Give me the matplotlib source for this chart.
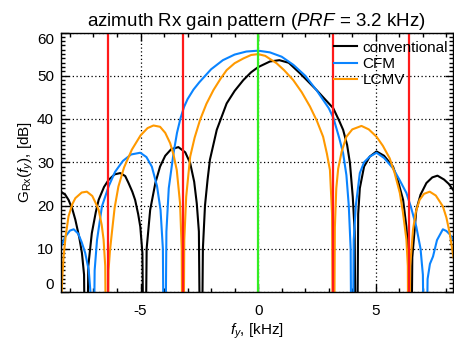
import numpy as np
import matplotlib
matplotlib.use('Agg')
import matplotlib.pyplot as plt
from matplotlib.ticker import MultipleLocator

plt.rcParams['font.family'] = ['Liberation Sans', 'DejaVu Sans']
plt.rcParams['mathtext.fontset'] = 'custom'
plt.rcParams['mathtext.rm'] = 'Liberation Sans'
plt.rcParams['mathtext.it'] = 'Liberation Sans:italic'
plt.rcParams['axes.unicode_minus'] = False

# conventional beamformer (nulls set far below 0 dB)
f_conv = [-8.38, -8.2, -8.06, -7.9, -7.77, -7.6, -7.49, -7.4, -7.32, -7.22, -7.07, -6.9,
          -6.78, -6.55, -6.36, -6.1, -5.86, -5.65, -5.51, -5.35, -5.23, -5.1, -5.01, -4.92,
          -4.83, -4.74, -4.59, -4.37, -4.17, -3.95, -3.7, -3.39, -3.1, -2.89, -2.72, -2.61,
          -2.52, -2.43, -2.35, -2.26, -2.15, -2.05, -1.76, -1.34, -1.0, -0.63, -0.3, 0.0,
          0.5, 0.9, 1.3, 1.77, 2.1, 2.48, 2.85, 3.19, 3.45, 3.61, 3.78, 3.9, 4.02, 4.1,
          4.18, 4.25, 4.32, 4.5, 4.74, 5.03, 5.35, 5.73, 5.95, 6.16, 6.3, 6.4, 6.47, 6.55,
          6.72, 6.9, 7.15, 7.4, 7.62, 7.9, 8.1, 8.3]
g_conv = [23.2, 22.5, 21.3, 19.2, 16.7, 12.5, 9.0, 4.0, -40, 6.0, 13.6, 18.5,
          21.3, 24.3, 25.9, 27.2, 27.5, 26.8, 25.2, 23.2, 21.3, 18.0, 15.1, 9.0,
          -40, 10.0, 19.0, 25.2, 29.0, 31.5, 33.0, 33.5, 32.3, 29.8, 25.5, 20.5,
          14.0, -40, 10.0, 20.0, 26.0, 30.6, 37.5, 43.6, 46.5, 49.0, 50.8, 52.0,
          53.3, 53.6, 53.0, 50.6, 48.8, 46.7, 44.5, 42.5, 39.5, 37.5, 34.0, 29.8, 22.0, 14.0,
          -40, 18.0, 24.0, 29.0, 31.3, 32.5, 31.5, 29.0, 25.5, 21.3, 15.0, 8.0, -40, 8.0,
          19.0, 22.5, 25.2, 26.5, 26.9, 26.0, 25.0, 23.5]

# CFM
f_cfm = [-8.38, -8.2, -8.0, -7.84, -7.65, -7.5, -7.35, -7.2, -7.1, -7.04, -6.95, -6.85,
         -6.64, -6.35, -6.08, -5.75, -5.4, -5.01, -4.75, -4.52, -4.3, -4.15, -4.05, -3.98,
         -3.9, -3.8, -3.6, -3.45, -3.3, -3.15, -3.0, -2.75, -2.5, -2.0, -1.5, -1.0,
         -0.5, 0.0, 0.5, 1.0, 1.5, 2.0, 2.5, 3.0, 3.2, 3.45, 3.61, 3.75,
         3.85, 3.93, 3.99, 4.06, 4.15, 4.32, 4.5, 4.74, 5.03, 5.35, 5.73, 6.0,
         6.3, 6.5, 6.72, 6.9, 7.0, 7.1, 7.2, 7.3, 7.43, 7.6, 7.85, 8.0,
         8.15, 8.3]
g_cfm = [10.5, 12.8, 14.2, 14.5, 13.5, 11.5, 9.0, 5.0, -2.0, -40, 5.0, 12.0,
         19.8, 24.5, 27.8, 30.3, 31.8, 32.2, 31.2, 29.0, 24.5, 19.0, 10.0, -40,
         14.0, 24.0, 32.0, 36.8, 40.2, 42.8, 44.6, 46.8, 48.5, 51.5, 53.6, 54.9,
         55.6, 55.8, 55.4, 54.4, 52.5, 50.0, 46.5, 42.5, 40.2, 35.5, 32.1, 27.0,
         20.0, 10.0, -40, 12.0, 20.0, 27.5, 30.0, 31.3, 32.2, 31.0, 28.6, 26.0,
         22.9, 19.5, 15.1, 10.0, 4.0, -40, 3.0, 6.5, 8.2, 12.0, 14.5, 14.1,
         13.3, 12.0]

# LCMV
f_lcmv = [-8.38, -8.33, -8.27, -8.18, -8.06, -7.9, -7.77, -7.5, -7.28, -7.05, -6.9, -6.78,
          -6.65, -6.57, -6.5, -6.43, -6.36, -6.3, -6.22, -6.1, -5.94, -5.7, -5.37, -5.0,
          -4.7, -4.45, -4.17, -3.95, -3.74, -3.6, -3.46, -3.32, -3.25, -3.2, -3.14, -3.06,
          -2.89, -2.7, -2.47, -2.2, -1.9, -1.6, -1.34, -1.0, -0.63, -0.3, 0.0, 0.3,
          0.78, 1.1, 1.49, 1.85, 2.2, 2.5, 2.76, 2.92, 3.05, 3.14, 3.2, 3.26,
          3.32, 3.4, 3.55, 3.75, 4.0, 4.39, 4.7, 5.03, 5.3, 5.59, 5.8, 6.02,
          6.15, 6.3, 6.36, 6.4, 6.46, 6.58, 6.7, 6.86, 7.05, 7.29, 7.55, 7.85,
          8.0, 8.14, 8.3]
g_lcmv = [-5.0, 3.0, 8.2, 13.0, 17.5, 20.3, 21.7, 23.0, 23.2, 22.2, 20.5, 19.0,
          15.5, 12.1, 6.0, -40, 5.0, 9.5, 13.6, 19.5, 24.4, 28.8, 32.9, 36.2,
          37.9, 38.5, 38.2, 36.8, 34.4, 31.8, 28.2, 20.5, 10.0, -40, 12.0, 22.0,
          31.3, 35.7, 39.8, 43.5, 46.7, 49.3, 51.3, 52.9, 54.0, 54.8, 55.0, 54.6,
          52.9, 51.3, 49.0, 46.2, 42.9, 39.5, 35.9, 32.0, 28.2, 18.0, -40, 15.0,
          24.0, 28.5, 32.5, 35.9, 37.6, 38.4, 37.6, 35.9, 33.8, 30.9, 27.5, 22.9,
          18.5, 12.1, 6.0, -40, 6.0, 14.4, 18.5, 21.3, 22.7, 23.2, 22.3, 19.8,
          17.2, 13.6, 8.0]

prf_lines = [-6.4, -3.2, 3.2, 6.4]   # +-PRF, +-2 PRF
center_line = 0.0

fig = plt.figure(figsize=(4.54, 3.47), dpi=100)
ax = fig.add_axes([61 / 454, 1 - 292 / 347, 392 / 454, 259.5 / 347])

ax.plot(f_conv, g_conv, color='black', lw=1.5, label='conventional')
ax.plot(f_cfm, g_cfm, color='#0a84ff', lw=1.5, label='CFM')
ax.plot(f_lcmv, g_lcmv, color='#ff9900', lw=1.5, label='LCMV')

for x in prf_lines:
    ax.axvline(x, color='#ff1a1a', lw=1.6)
ax.axvline(center_line, color='#33ee22', lw=1.6)

ax.set_xlim(-8.38, 8.28)
ax.set_ylim(0, 60)
ax.xaxis.set_major_locator(MultipleLocator(5))
ax.xaxis.set_minor_locator(MultipleLocator(1))
ax.yaxis.set_major_locator(MultipleLocator(10))
ax.yaxis.set_minor_locator(MultipleLocator(1))
ax.tick_params(which='both', direction='in', top=True, right=True, labelsize=11)
ax.tick_params(which='major', length=6, width=1)
ax.tick_params(which='minor', length=3, width=1)
ax.tick_params(axis='x', which='major', pad=8.5)
ax.tick_params(axis='y', which='major', pad=5)
ax.grid(True, which='major', color='black', linestyle=(0, (1, 2)), lw=0.9)
for sp in ax.spines.values():
    sp.set_linewidth(1.0)

ax.set_title(r'azimuth Rx gain pattern ($PRF$ = 3.2 kHz)', fontsize=13.5, pad=5)
ax.set_xlabel(r'$f_y$, [kHz]', fontsize=11, labelpad=3)
ax.set_ylabel(r'$\mathrm{G}_{\mathrm{Rx}}(f_y)$, [dB]', fontsize=11, labelpad=1)

ax.legend(loc='upper right', bbox_to_anchor=(1.0 - 2 / 392, 1.0 - 5 / 259.5), frameon=False,
          fontsize=11, handlelength=1.5, handletextpad=0.35, labelspacing=0.15,
          borderpad=0.2, borderaxespad=0.0)

# IDL keeps the end labels inside the frame
fig.canvas.draw()
yticks = [t for t in ax.yaxis.get_major_ticks() if 0 <= t.get_loc() <= 60]
yticks[0].label1.set_va('bottom')
yticks[-1].label1.set_va('top')

fig.savefig('out.png', dpi=100)
